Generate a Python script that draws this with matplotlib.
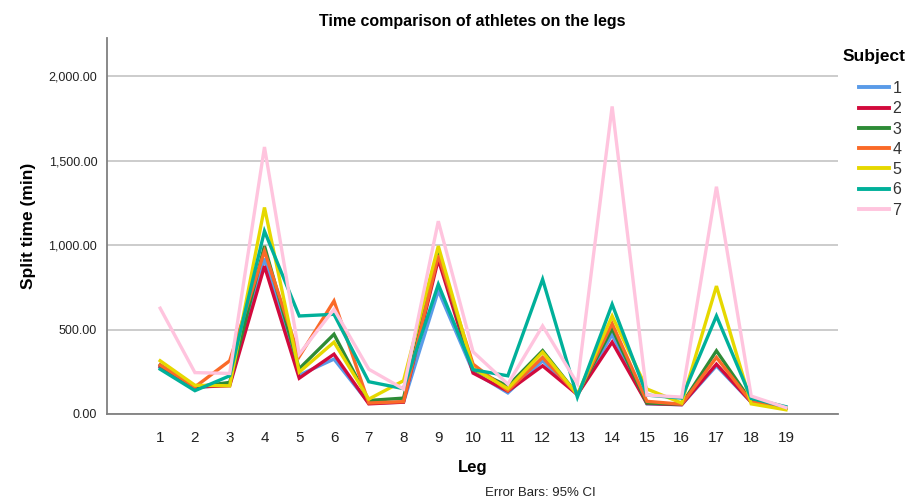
import matplotlib
matplotlib.use("Agg")
import matplotlib.pyplot as plt
from matplotlib.ticker import FuncFormatter

plt.rcParams['font.family'] = ['Liberation Sans', 'DejaVu Sans']

# Legs on the x axis
legs = list(range(1, 20))

# Split times (min) per subject
subject_1 = [275, 155, 175, 920, 230, 325, 65, 70, 730, 250, 125, 315, 115, 470, 60, 55, 285, 70, 35]
subject_2 = [280, 160, 167, 875, 212, 354, 60, 70, 915, 242, 135, 285, 115, 425, 62, 55, 295, 70, 35]
subject_3 = [290, 160, 187, 994, 268, 472, 80, 94, 955, 265, 165, 375, 115, 505, 65, 58, 374, 75, 35]
subject_4 = [290, 160, 315, 964, 340, 669, 65, 73, 940, 295, 138, 335, 115, 535, 75, 58, 335, 72, 35]
subject_5 = [315, 170, 167, 1222, 248, 425, 88, 197, 994, 270, 150, 366, 115, 580, 148, 65, 757, 60, 25]
subject_6 = [265, 138, 226, 1082, 580, 590, 191, 150, 767, 262, 226, 797, 100, 649, 112, 94, 580, 92, 43]
subject_7 = [626, 245, 240, 1580, 354, 620, 265, 148, 1141, 368, 177, 521, 180, 1820, 112, 100, 1345, 106, 38]

series = [subject_1, subject_2, subject_3, subject_4, subject_5, subject_6, subject_7]
labels = ['1', '2', '3', '4', '5', '6', '7']
colors = ['#5A9BE8', '#D20A3C', '#2E8B36', '#FA6A28', '#E6D800', '#00B09A', '#FFC4DE']

fig = plt.figure(figsize=(9.19, 5.0), dpi=100)
ax = fig.add_axes([0.1164, 0.172, 0.7956, 0.752])

for vals, lab, col in zip(series, labels, colors):
    ax.plot(legs, vals, color=col, linewidth=2.4, label=lab, solid_joinstyle='miter')

ax.set_xlim(-0.53, 20.5)
ax.set_ylim(0, 2225)
ax.set_xticks(legs)
ax.set_yticks([0, 500, 1000, 1500, 2000])
ax.yaxis.set_major_formatter(FuncFormatter(lambda v, p: f"{v:,.2f}"))
ax.tick_params(axis='both', length=0)
ax.tick_params(axis='x', labelsize=11, pad=12, labelcolor='#222222')
ax.tick_params(axis='y', labelsize=9, pad=7, labelcolor='#222222')

ax.grid(axis='y', color='#C8C8C8', linewidth=1.3)
ax.set_axisbelow(True)
for s in ['top', 'right']:
    ax.spines[s].set_visible(False)
for s in ['left', 'bottom']:
    ax.spines[s].set_color('#808080')
    ax.spines[s].set_linewidth(1.3)

ax.set_title('Time comparison of athletes on the legs', fontsize=11.5, fontweight='bold', pad=9)
ax.set_xlabel('Leg', fontsize=12, fontweight='bold', labelpad=11)
ax.set_ylabel('Split time (min)', fontsize=12.5, fontweight='bold', labelpad=9)
fig.text(0.588, 0.003, 'Error Bars: 95% CI', ha='center', va='bottom', fontsize=9.5, color='#222222')

# legend title as a separate text so the gap matches the reference
fig.text(843 / 919, 1 - 57 / 500, 'Subject', ha='left', va='center', fontsize=12.5, fontweight='bold')
leg = fig.legend(loc='upper left', bbox_to_anchor=(859 / 919, 1 - 81 / 500),
                 frameon=False, fontsize=11.5, handlelength=1.85, handletextpad=0.25,
                 labelspacing=0.33, borderaxespad=0, borderpad=0)
for line in leg.get_lines():
    line.set_linewidth(2.8)
for t in leg.get_texts():
    t.set_color('#333333')

fig.savefig('out.png', dpi=100)
